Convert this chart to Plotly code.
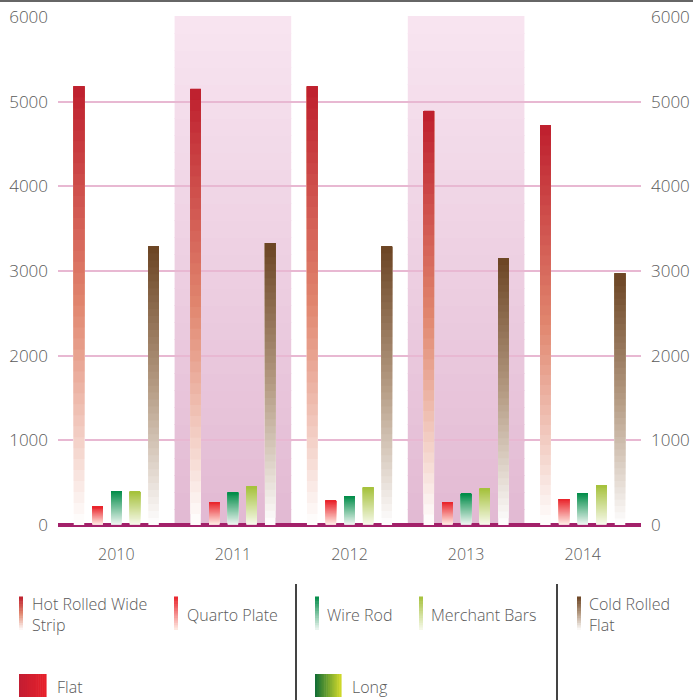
import plotly.graph_objects as go
from plotly.colors import sample_colorscale

years = ["2010", "2011", "2012", "2013", "2014"]
hot_rolled = [5180, 5150, 5180, 4890, 4720]
quarto_plate = [215, 270, 285, 270, 305]
wire_rod = [400, 380, 340, 365, 375]
merchant_bars = [390, 450, 440, 425, 470]
cold_rolled = [3290, 3330, 3290, 3150, 2970]
y_ticks = [0, 1000, 2000, 3000, 4000, 5000, 6000]

series = [
    ("Hot Rolled Wide<br>Strip", hot_rolled, [[0, "#FFFFFF"], [0.5, "#E1876F"], [1, "#BE1E2D"]], -0.32),
    ("Quarto Plate", quarto_plate, [[0, "#FFF0E8"], [1, "#E9222A"]], -0.16),
    ("Wire Rod", wire_rod, [[0, "#F2F7F4"], [1, "#008C48"]], 0.0),
    ("Merchant Bars", merchant_bars, [[0, "#F8FAEE"], [1, "#A5C13B"]], 0.16),
    ("Cold Rolled<br>Flat", cold_rolled, [[0, "#FFFFFF"], [0.5, "#B49A82"], [1, "#6B4423"]], 0.32),
]

W, H = 693, 700
L, R, T, B = 58, 52, 17, 173
pw, ph = W - L - R, H - T - B
FONT = "Open Sans"
GREY = "#5A5A5A"


def px(x):
    return (x - L) / pw


def py(y):
    return (H - B - y) / ph


fig = go.Figure()

# gradient bars: overlapping segments, each one a bit higher and darker
N = 40
bar_w = 0.09
for name, vals, cs, off in series:
    for k in range(N):
        col = sample_colorscale(cs, [(k + 0.5) / N])[0]
        fig.add_trace(go.Bar(
            x=years,
            y=[v - v * k / N for v in vals],
            base=[v * k / N for v in vals],
            width=bar_w,
            offset=off - bar_w / 2,
            marker=dict(color=col, line=dict(width=0)),
            showlegend=False,
            hoverinfo="skip",
        ))

fig.add_trace(go.Scatter(x=years, y=[None] * 5, yaxis="y2", showlegend=False, hoverinfo="skip"))

shapes = []

# shaded year bands (2011, 2013)
S = 30
band_cs = [[0, "#E2B9D3"], [1, "#F8E5F0"]]
for i in (1, 3):
    for k in range(S):
        col = sample_colorscale(band_cs, [(k + 0.5) / S])[0]
        shapes.append(dict(type="rect", xref="x", yref="paper", x0=i - 0.5, x1=i + 0.5,
                           y0=k / S, y1=(k + 1) / S + 0.002, fillcolor=col,
                           line=dict(width=0), layer="below"))

# top rule
shapes.append(dict(type="line", xref="paper", yref="paper", x0=px(0), x1=px(W),
                   y0=py(1), y1=py(1), line=dict(color="#666666", width=2)))

# legend separators
for sx in (296, 557):
    shapes.append(dict(type="line", xref="paper", yref="paper", x0=px(sx), x1=px(sx),
                       y0=py(584), y1=py(700), line=dict(color="#444444", width=2)))

annotations = []
leg_pos = [(19, 30), (174, 185), (315, 325), (419, 429), (577, 587)]
M = 14
for (name, vals, cs, off), (mx, tx) in zip(series, leg_pos):
    for k in range(M):
        col = sample_colorscale(cs, [(k + 0.5) / M])[0]
        y_top = 630 - (k + 1) * 33 / M
        y_bot = 630 - k * 33 / M
        shapes.append(dict(type="rect", xref="paper", yref="paper", x0=px(mx), x1=px(mx + 4),
                           y0=py(y_bot), y1=py(y_top) + 0.001, fillcolor=col, line=dict(width=0)))
    annotations.append(dict(text=name, xref="paper", yref="paper", x=px(tx), y=py(614.5),
                            xanchor="left", yanchor="middle", showarrow=False, align="left",
                            font=dict(family=FONT, size=16, color=GREY, weight=300)))

# group swatches (horizontal gradients)
groups = [("Flat", 19, 46, 55, [[0, "#C21E33"], [1, "#E8202A"]]),
          ("Long", 315, 341, 350, [[0, "#0E6B35"], [1, "#D4DB2A"]])]
for name, x0, x1, tx, cs in groups:
    for k in range(M):
        col = sample_colorscale(cs, [(k + 0.5) / M])[0]
        xa = x0 + k * (x1 - x0) / M
        xb = x0 + (k + 1) * (x1 - x0) / M
        shapes.append(dict(type="rect", xref="paper", yref="paper", x0=px(xa), x1=px(xb) + 0.001,
                           y0=py(697), y1=py(674), fillcolor=col, line=dict(width=0)))
    annotations.append(dict(text=name, xref="paper", yref="paper", x=px(tx), y=py(687),
                            xanchor="left", yanchor="middle", showarrow=False,
                            font=dict(family=FONT, size=16, color=GREY, weight=300)))

yrange = [-25, 6000]
tick_font = dict(family=FONT, size=17, color=GREY, weight=300)
fig.update_layout(
    width=W, height=H,
    margin=dict(l=L, r=R, t=T, b=B, pad=0),
    paper_bgcolor="white", plot_bgcolor="white",
    barmode="overlay",
    showlegend=False,
    font=dict(family=FONT, color=GREY),
    shapes=shapes,
    annotations=annotations,
    xaxis=dict(type="category", range=[-0.5, 4.5], showgrid=False, zeroline=False,
               showline=False, ticks="", ticklabelstandoff=16, automargin=False,
               tickfont=dict(family=FONT, size=16, color=GREY, weight=300)),
    yaxis=dict(range=yrange, tickvals=y_ticks, showgrid=True, gridcolor="#E8B8D2",
               gridwidth=2, zeroline=True, zerolinecolor="#A3216A", zerolinewidth=4,
               showline=False, ticks="", ticklabelstandoff=9, automargin=False,
               tickfont=tick_font),
    yaxis2=dict(range=yrange, tickvals=y_ticks, overlaying="y", side="right",
                showgrid=False, zeroline=False, showline=False, ticks="",
                ticklabelstandoff=9, automargin=False, tickfont=tick_font),
)

fig.write_html("out.html", config={"displayModeBar": False},
               post_script="document.body.style.margin='0';document.body.style.overflow='hidden';")
